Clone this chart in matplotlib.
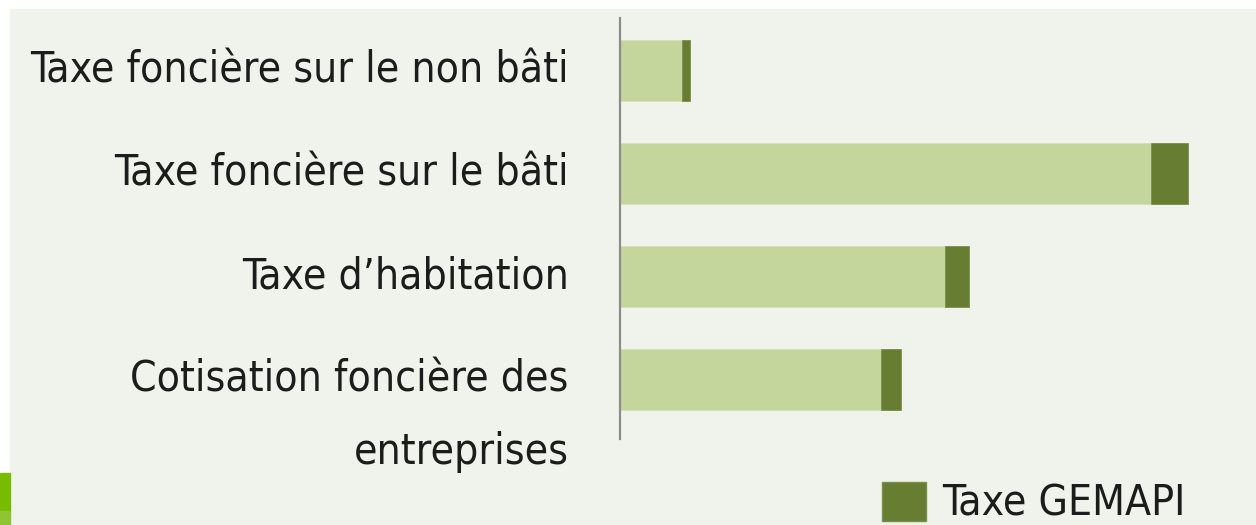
import matplotlib.pyplot as plt
from matplotlib.patches import Patch, Rectangle

# values (arbitrary units, same scale for both series)
categories = [
    "Taxe foncière sur le non bâti",
    "Taxe foncière sur le bâti",
    "Taxe d’habitation",
    "Cotisation foncière des\nentreprises",
]
base_values = [62, 531, 325, 261]
gemapi_values = [8, 37, 24, 20]
legend_label = "Taxe GEMAPI"

LIGHT = "#c4d69c"
DARK = "#677d32"
BG = "#f0f3eb"
TEXT = "#1c1c1c"
FS = 30.5

plt.rcParams["font.family"] = ["DejaVu Sans"]
plt.rcParams["font.stretch"] = "condensed"

W, H = 1256, 525
fig = plt.figure(figsize=(W / 100, H / 100), dpi=100, facecolor="white")

# page background panel and green tab on the left edge
fig.patches.append(Rectangle((10 / W, 0), 1 - 10 / W, 1 - 9 / H,
                             transform=fig.transFigure, color=BG, zorder=-5))
fig.patches.append(Rectangle((0, 14 / H), 10 / W, 38 / H,
                             transform=fig.transFigure, color="#78bc00", zorder=-5))
fig.patches.append(Rectangle((0, 0), 10 / W, 14 / H,
                             transform=fig.transFigure, color="#8fc535", zorder=-5))

left, right, top, bottom = 620, 1220, 18, 439
ax = fig.add_axes([left / W, 1 - bottom / H, (right - left) / W, (bottom - top) / H])
ax.set_facecolor("none")

y = list(range(len(categories)))
ax.barh(y, base_values, height=0.59, color=LIGHT, edgecolor="#d4e2b8", linewidth=0.6)
ax.barh(y, gemapi_values, left=base_values, height=0.59, color=DARK,
        edgecolor="#7a8f4a", linewidth=0.6)

ax.set_xlim(0, 600)
ax.set_ylim(3.58, -0.51)
for side in ["top", "right", "bottom"]:
    ax.spines[side].set_visible(False)
ax.spines["left"].set_color("#8c8c8c")
ax.spines["left"].set_linewidth(1.6)
ax.set_xticks([])
ax.set_yticks([])

# category labels: first line centred on the bar, extra lines below
for yi, label in zip(y, categories):
    for k, line in enumerate(label.split("\n")):
        ax.annotate(line, xy=(0, yi), xycoords=("axes fraction", "data"),
                    xytext=(-37, -52.5 * k), textcoords="offset points",
                    ha="right", va="center", fontsize=FS, color=TEXT,
                    annotation_clip=False)

fig.legend(handles=[Patch(facecolor=DARK, edgecolor="#7a8f4a", label=legend_label)],
           loc="center left", bbox_to_anchor=(882 / W, 1 - 503 / H),
           frameon=False, fontsize=FS, handlelength=1.04, handleheight=1.04,
           handletextpad=0.38, borderpad=0, borderaxespad=0, labelcolor=TEXT)

fig.savefig("out.png", dpi=100, facecolor="white")
